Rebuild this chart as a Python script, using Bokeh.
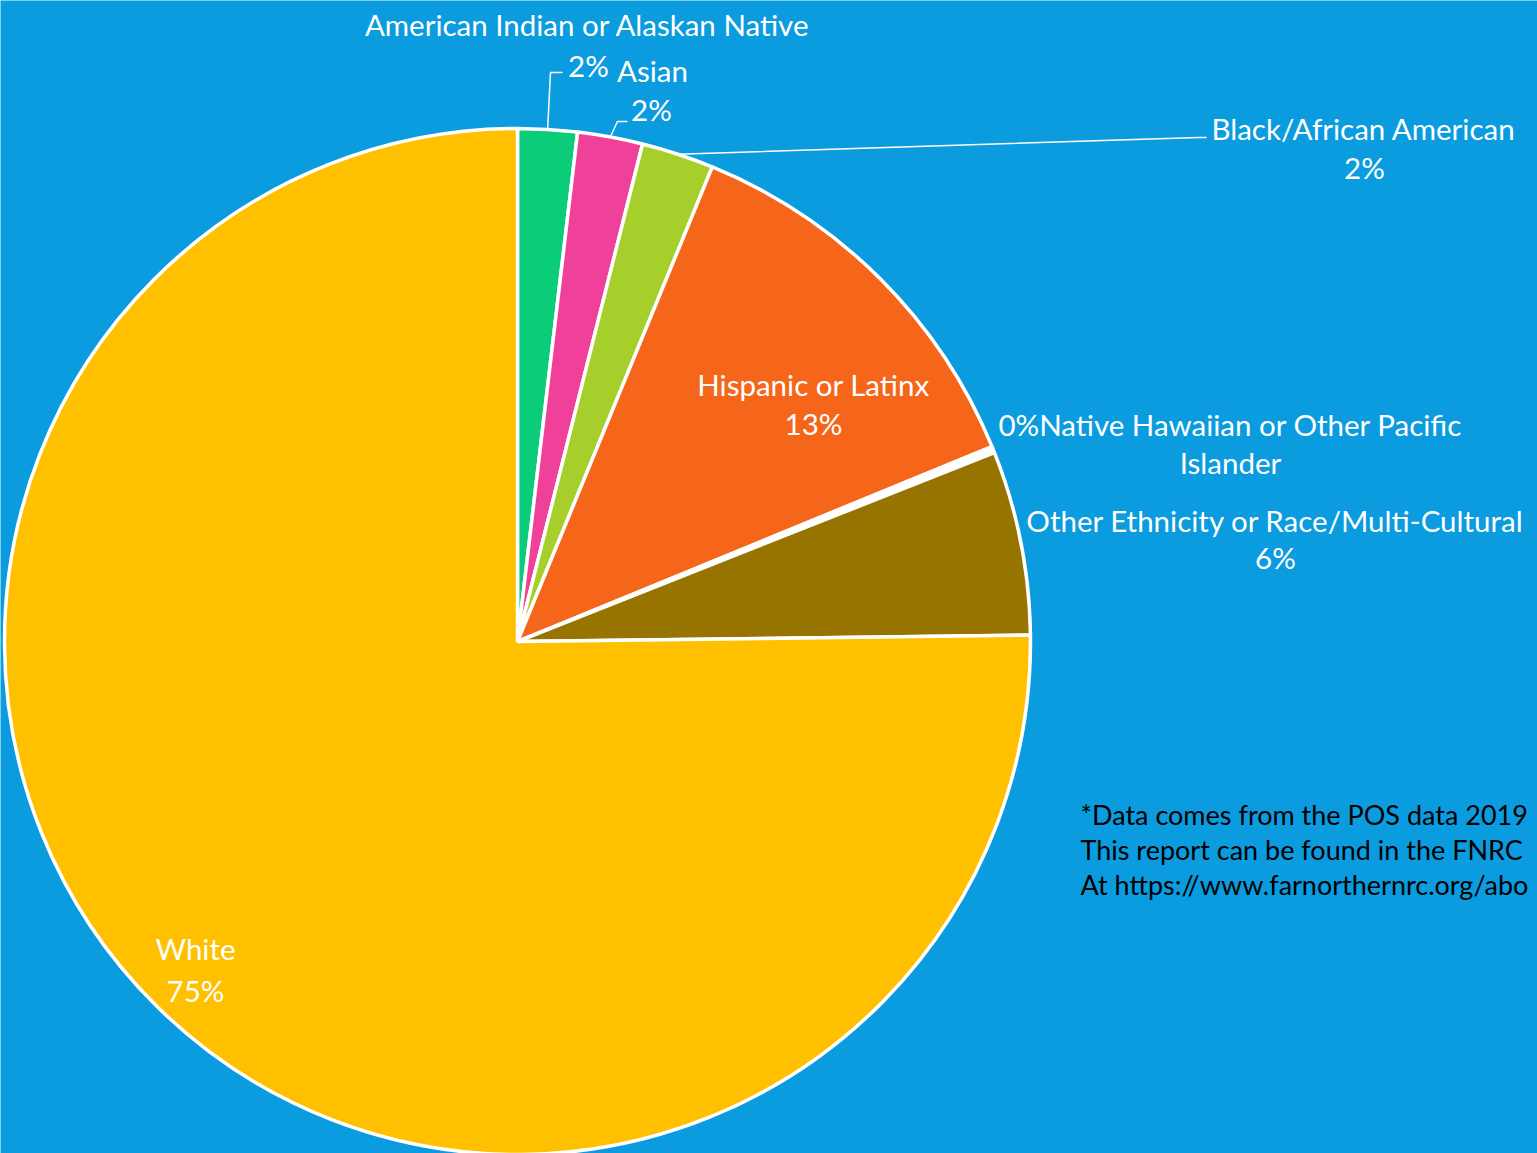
import math
from bokeh.plotting import figure
from bokeh.models import Range1d
from bokeh.core.properties import value
from bokeh.embed import file_html
from bokeh.resources import INLINE

# ---- data ----
categories = ["American Indian or Alaskan Native", "Asian", "Black/African American",
              "Hispanic or Latinx", "Native Hawaiian or Other Pacific Islander",
              "Other Ethnicity or Race/Multi-Cultural", "White"]
shares = [1.87, 2.05, 2.28, 12.6, 0.2, 5.8, 75.2]
pct_labels = ["2%", "2%", "2%", "13%", "0%", "6%", "75%"]
colors = ["#0ACC79", "#F0419A", "#A6CF2C", "#F5661A", "#FFFFFF", "#977400", "#FFC000"]
note_lines = ["*Data comes from the POS data 2019",
              "This report can be found in the FNRC",
              "At https://www.farnorthernrc.org/abo"]

# ---- layout ----
W, H = 1537, 1153
CX, CY, R = 517, 641, 513   # pixel coords of centre (top-left origin)
BG = "#0B9BDF"
FONT = "Lato"
FS = "29.5px"
FS_NOTE = "27px"

def Y(py):
    return H - py

p = figure(width=W, height=H, output_backend="svg", toolbar_location=None,
           x_range=Range1d(0, W), y_range=Range1d(0, H), min_border=0)
p.axis.visible = False
p.grid.visible = False
p.outline_line_color = None
p.background_fill_color = BG
p.border_fill_color = BG

total = sum(shares)
starts, ends, mids = [], [], []
cum = 0.0
for s in shares:
    a0 = math.pi / 2 - 2 * math.pi * cum / total
    cum += s
    a1 = math.pi / 2 - 2 * math.pi * cum / total
    starts.append(a0)
    ends.append(a1)
    mids.append((a0 + a1) / 2)

p.wedge(x=[CX] * len(shares), y=[Y(CY)] * len(shares), radius=R,
        start_angle=starts, end_angle=ends, direction="clock",
        fill_color=colors, line_color="white", line_width=3.5)

def arc_pt(i, rr=R):
    return CX + rr * math.cos(mids[i]), Y(CY) + rr * math.sin(mids[i])

# leader lines (first three slices)
elbows = [[(550, 72), (562, 72)], [(617, 121), (627, 121)], [(1198, 137), (1206, 137)]]
for i, pts in enumerate(elbows):
    sx, sy = arc_pt(i)
    xs = [sx] + [q[0] for q in pts]
    ys = [sy] + [Y(q[1]) for q in pts]
    p.line(xs, ys, line_color="white", line_width=1.5)

# label positions (centre x, centre y in pixels) for name and pct lines
name_pos = [(587, 24), (652, 70), (1363, 128), (813, 384), None, (1275, 520), (195, 948)]
pct_pos = [(588, 65), (651, 109), (1364, 167), (813, 423), None, (1275, 557), (195, 990)]

for i in range(len(categories)):
    if name_pos[i] is None:
        continue
    nx, ny = name_pos[i]
    px_, py_ = pct_pos[i]
    p.text(x=[nx], y=[Y(ny)], text=[categories[i]], text_color="white",
           text_font=value(FONT), text_font_size=FS,
           text_align="center", text_baseline="middle")
    p.text(x=[px_], y=[Y(py_)], text=[pct_labels[i]], text_color="white",
           text_font=value(FONT), text_font_size=FS,
           text_align="center", text_baseline="middle")

# Native Hawaiian label (pct prefix, two lines)
nh = 4
p.text(x=[1230], y=[Y(424)], text=[pct_labels[nh] + "Native Hawaiian or Other Pacific"],
       text_color="white", text_font=value(FONT), text_font_size=FS,
       text_align="center", text_baseline="middle")
p.text(x=[1230], y=[Y(462)], text=["Islander"],
       text_color="white", text_font=value(FONT), text_font_size=FS,
       text_align="center", text_baseline="middle")

# note
for k, line in enumerate(note_lines):
    p.text(x=[1080], y=[Y(814 + 35 * k)], text=[line], text_color="black",
           text_font=value(FONT), text_font_size=FS_NOTE,
           text_align="left", text_baseline="middle")

open("out.html", "w").write(file_html(p, INLINE))
